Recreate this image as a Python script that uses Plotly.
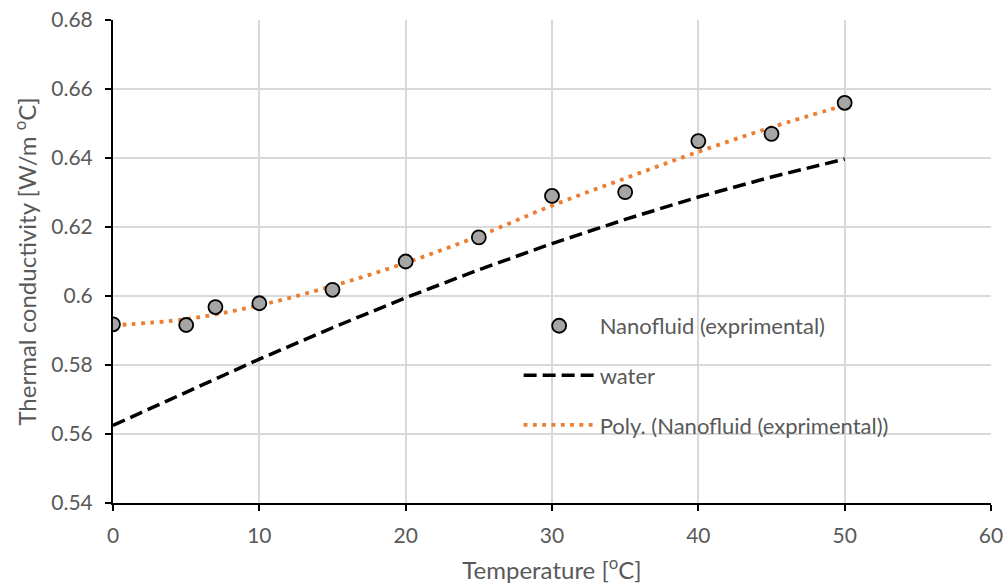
import plotly.graph_objects as go

# Data
temps_exp = [0, 5, 7, 10, 15, 20, 25, 30, 35, 40, 45, 50]
k_nanofluid = [0.5918, 0.5916, 0.5968, 0.5979, 0.6018, 0.6100, 0.6170, 0.6290, 0.6301, 0.6449, 0.6470, 0.6560]

temps_water = [0, 5, 10, 15, 20, 25, 30, 35, 40, 45, 50]
k_water = [0.5625, 0.5722, 0.5817, 0.5908, 0.5995, 0.6076, 0.6152, 0.6222, 0.6287, 0.6345, 0.6397]

temps_trend = [0, 5, 10, 15, 20, 25, 30, 35, 40, 45, 50]
k_trend = [0.5915, 0.5933, 0.5973, 0.6029, 0.6096, 0.6174, 0.6262, 0.6341, 0.6418, 0.6489, 0.6553]

x_ticks = [0, 10, 20, 30, 40, 50, 60]
y_ticks = [0.54, 0.56, 0.58, 0.60, 0.62, 0.64, 0.66, 0.68]
y_tick_text = ["0.54", "0.56", "0.58", "0.6", "0.62", "0.64", "0.66", "0.68"]

FONT = "Lato, 'Open Sans', sans-serif"
GREY = "#595959"

fig = go.Figure()

fig.add_trace(go.Scatter(
    x=temps_water, y=k_water, mode="lines", name="water",
    line=dict(color="black", width=3.5, dash="13px,6px"),
    legendrank=2, legendgroup="b",
))
fig.add_trace(go.Scatter(
    x=temps_trend, y=k_trend, mode="lines", name="Poly. (Nanofluid (exprimental))",
    line=dict(color="#ED7D31", width=3.8, dash="3.8px,5.5px", shape="spline"),
    legendrank=3, legendgroup="c",
))
fig.add_trace(go.Scatter(
    x=temps_exp, y=k_nanofluid, mode="markers", name="Nanofluid (exprimental)",
    marker=dict(size=14, color="#A5A5A5", line=dict(color="black", width=1.8)),
    legendrank=1, legendgroup="a",
))

# white legend box hiding the gridlines behind the legend
fig.add_shape(
    type="rect", xref="paper", yref="paper",
    x0=0.3975, x1=0.960, y0=0.112, y1=0.422,
    fillcolor="white", line=dict(width=0), layer="between",
)

fig.update_layout(
    width=1007, height=588,
    margin=dict(l=113, r=16, t=20, b=85),
    paper_bgcolor="white", plot_bgcolor="white",
    font=dict(family=FONT, size=21, color=GREY),
    showlegend=True,
    legend=dict(
        x=0.462, y=0.41, xanchor="left", yanchor="top",
        bgcolor="rgba(0,0,0,0)", borderwidth=0,
        font=dict(family=FONT, size=22, color=GREY),
        tracegroupgap=18, itemwidth=71,
        traceorder="grouped",
    ),
    xaxis=dict(
        range=[0, 60], tickvals=x_ticks, ticktext=[str(v) for v in x_ticks],
        showgrid=True, gridcolor="#D9D9D9", gridwidth=1.5,
        showline=True, linecolor="black", linewidth=2,
        ticks="outside", ticklen=6, tickcolor="black", tickwidth=1.5,
        ticklabelstandoff=7, automargin=False,
        zeroline=False,
        tickfont=dict(family=FONT, size=21, color=GREY),
        title=dict(text="Temperature [<sup>o</sup>C]", font=dict(family=FONT, size=24, color=GREY), standoff=16),
    ),
    yaxis=dict(
        range=[0.54, 0.68], tickvals=y_ticks, ticktext=y_tick_text,
        showgrid=True, gridcolor="#D9D9D9", gridwidth=1.5,
        showline=True, linecolor="black", linewidth=2,
        ticks="outside", ticklen=6, tickcolor="black", tickwidth=1.5,
        ticklabelstandoff=8, automargin=False,
        zeroline=False,
        tickfont=dict(family=FONT, size=21, color=GREY),
        title=dict(text="Thermal conductivity [W/m <sup>o</sup>C]", font=dict(family=FONT, size=24, color=GREY), standoff=8),
    ),
)

fig.write_html(
    "out.html",
    config={"displayModeBar": False},
    post_script="document.body.style.margin='0';document.body.style.overflow='hidden';",
)
